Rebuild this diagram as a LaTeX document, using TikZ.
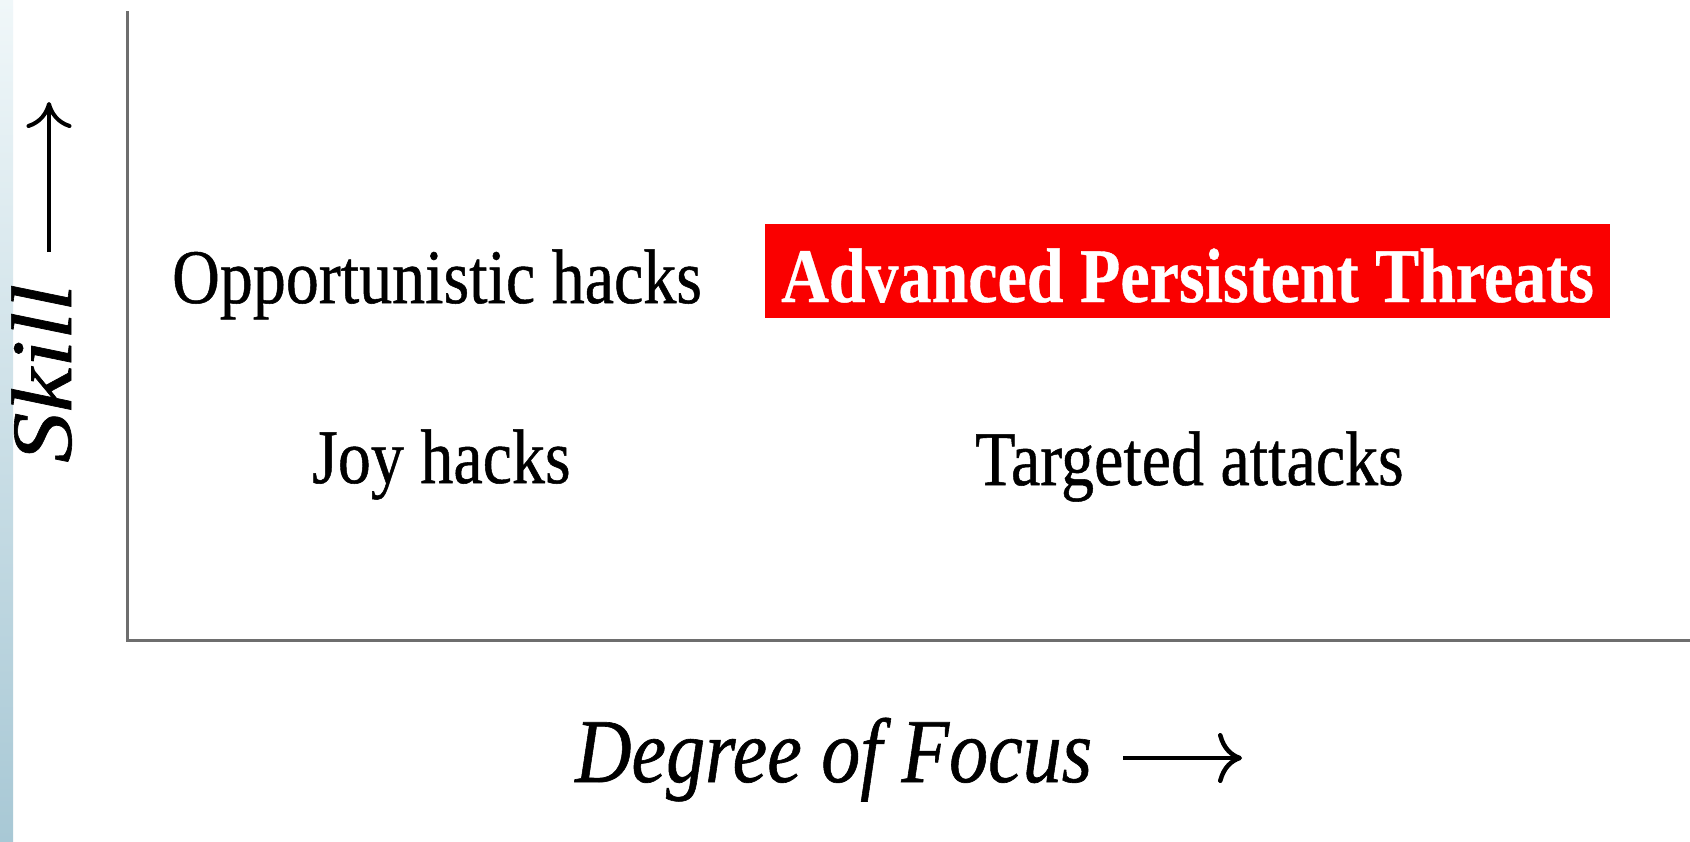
\documentclass[tikz,border=0pt]{standalone}
\usepackage{fontspec}
\setmainfont{Liberation Serif}[FakeBold=0.7]
\newfontfamily\aptfont{Liberation Serif Bold}[FakeBold=0.5]
\usetikzlibrary{arrows.meta}
\definecolor{axisgray}{HTML}{6E6E6E}
\definecolor{striptop}{HTML}{F0F7F9}
\definecolor{stripbot}{HTML}{A8C8D5}
\definecolor{aptred}{HTML}{FA0000}
\newcommand{\vstretch}[1]{\scalebox{1}[1.17]{#1}}
\newcommand{\hstretch}[1]{\scalebox{1.17}[1]{#1}}
\tikzset{
  lbl/.style={inner sep=0pt, anchor=base west, font=\fontsize{66}{70}\selectfont},
  axislbl/.style={inner sep=0pt, anchor=base west, font=\fontsize{78}{80}\selectfont\itshape},
  axisline/.style={draw=axisgray, line width=3pt, line cap=butt},
  axisarrow/.style={line width=4.5pt, -{Computer Modern Rightarrow[length=24pt, width=50pt, line width=4.5pt]}},
}
\begin{document}
\begin{tikzpicture}[x=1pt,y=-1pt]
\useasboundingbox (0,0) rectangle (1690,841);
\fill[white] (0,0) rectangle (1690,841);
\shade[top color=striptop, bottom color=stripbot] (0,0) rectangle (13,841);
% axes
\coordinate (ytop) at (127,11);
\coordinate (orig) at (127,640);
\coordinate (xend) at (1690,640);
\draw[axisline] (ytop) -- (orig) -- (xend);
% labels
\node[lbl] (opp) at (172,303) {\vstretch{Opportunistic hacks}};
\node[lbl, fill=aptred, text=white, font=\fontsize{66}{70}\aptfont,
      inner xsep=16pt, inner ysep=0pt, text height=78pt, text depth=16pt] (apt) at (765,302)
      {\vstretch{Advanced Persistent Threats}};
\node[lbl] (joy) at (312,483) {\vstretch{Joy hacks}};
\node[lbl] (tgt) at (975,485) {\vstretch{Targeted attacks}};
% axis labels
\node[axislbl] (deg) at (575,782) {\vstretch{Degree of Focus}};
\coordinate (dega) at (1123,758);
\coordinate (degb) at (1242,758);
\draw[axisarrow] (dega) -- (degb);
\node[axislbl, font=\fontsize{86}{90}\selectfont\itshape, rotate=90] (skill) at (71,463) {\hstretch{Skill}};
\coordinate (ska) at (49,252);
\coordinate (skb) at (49,102);
\draw[axisarrow, line width=4pt, -{Computer Modern Rightarrow[length=26pt, width=45pt, line width=4pt]}] (ska) -- (skb);
\end{tikzpicture}
\end{document}
